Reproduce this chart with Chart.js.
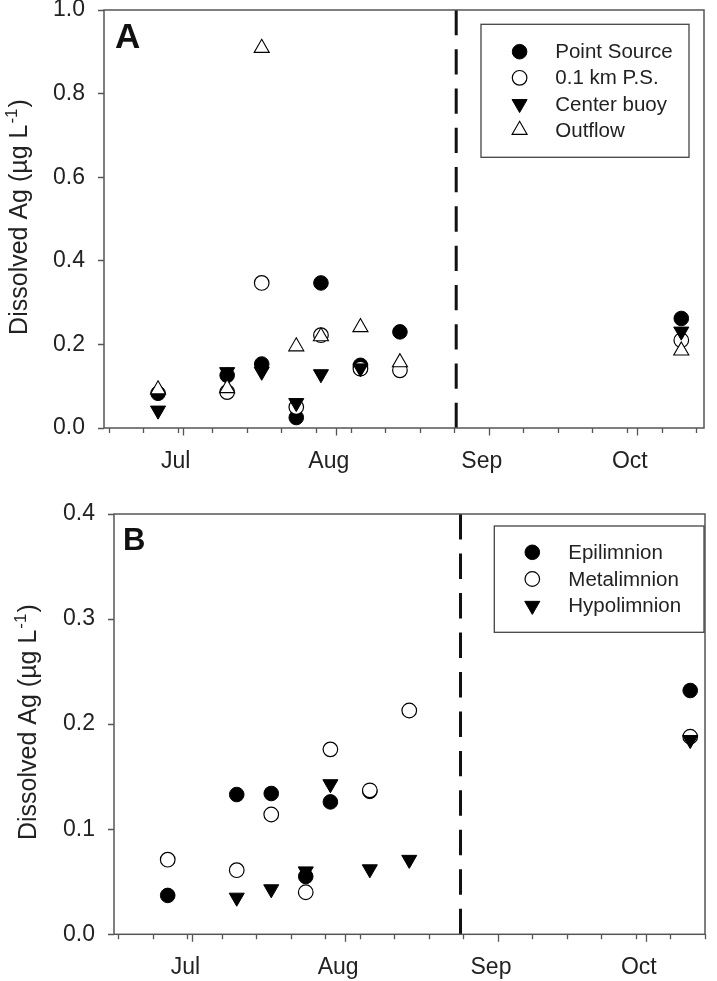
<!DOCTYPE html>
<html>
<head>
<meta charset="utf-8">
<script src="https://cdn.jsdelivr.net/npm/chart.js@4.4.1/dist/chart.umd.min.js"></script>
<style>
  html, body { margin: 0; padding: 0; background: #ffffff; }
  #wrapA { position: absolute; left: 0; top: 0; width: 717px; height: 490px; }
  #wrapB { position: absolute; left: 0; top: 490px; width: 717px; height: 491px; }
</style>
</head>
<body>
<div id="wrapA"><canvas id="chartA"></canvas></div>
<div id="wrapB"><canvas id="chartB"></canvas></div>
<script>
// ---------------- DATA ----------------
// sampling dates, as days after 1 July
const sampleDays = [-5, 9, 16, 23, 28, 36, 44, 101];

// Panel A: dissolved Ag (ug/L) by station
const pointSource = [0.083, 0.126, 0.153, 0.025, 0.347, 0.150, 0.230, 0.262];
const ps01km      = [null,  0.086, 0.347, 0.050, 0.222, 0.142, 0.138, 0.210];
const centerBuoy  = [0.042, 0.134, 0.135, 0.060, 0.129, 0.143, null,  0.231];
const outflow     = [0.092, 0.095, 0.909, 0.195, 0.219, 0.241, 0.157, 0.185];

// Panel B: dissolved Ag (ug/L) by depth layer
const epilimnion  = [0.037, 0.133, 0.134, 0.055, 0.126, 0.136, null,  0.232];
const metalimnion = [0.071, 0.061, 0.114, 0.040, 0.176, 0.137, 0.213, 0.188];
const hypolimnion = [null,  0.035, 0.043, 0.060, 0.143, 0.062, 0.071, 0.185];

const seriesNamesA = ['Point Source', '0.1 km P.S.', 'Center buoy', 'Outflow'];
const seriesNamesB = ['Epilimnion', 'Metalimnion', 'Hypolimnion'];

// axis ticks
const monthLabels    = ['Jul', 'Aug', 'Sep', 'Oct'];
const monthStartDays = [0, 31, 62, 92];
const weeklyTickDays = [-15, -8, -1, 6, 13, 20, 27, 34, 41, 48, 55, 62, 69, 76, 83, 90, 97, 104];
const yTicksA = [0.0, 0.2, 0.4, 0.6, 0.8, 1.0];
const yTicksB = [0.0, 0.1, 0.2, 0.3, 0.4];

// date of the dashed vertical marker (days after 1 July)
const turnoverDayA = 55.4;
const turnoverDayB = 54.4;

const yTitleMain = 'Dissolved Ag (µg L';
const yTitleSup = '-1';
const yTitleEnd = ')';

// ---------------- STYLE ----------------
const FONT = "'Liberation Sans', Arial, Helvetica, sans-serif";
Chart.defaults.font.family = FONT;
Chart.defaults.color = '#222';

const markerStyles = {
  filledCircle: { pointStyle: 'circle', rotation: 0, radius: 7.3, backgroundColor: '#000', borderColor: '#000', borderWidth: 1 },
  openCircle:   { pointStyle: 'circle', rotation: 0, radius: 7.3, backgroundColor: '#fff', borderColor: '#000', borderWidth: 1.2 },
  downTriangle: { pointStyle: 'triangle', rotation: 180, radius: 8.7, backgroundColor: '#000', borderColor: '#000', borderWidth: 1 },
  upTriangle:   { pointStyle: 'triangle', rotation: 0, radius: 8.7, backgroundColor: '#fff', borderColor: '#000', borderWidth: 1.1 }
};

function makeDataset(label, values, style, order) {
  return {
    label: label,
    data: sampleDays.map((d, i) => values[i] === null ? null : ({ x: d, y: values[i] })).filter(p => p !== null),
    showLine: false,
    pointStyle: style.pointStyle,
    rotation: style.rotation,
    pointRadius: style.radius,
    pointHoverRadius: style.radius,
    backgroundColor: style.backgroundColor,
    borderColor: style.borderColor,
    borderWidth: style.borderWidth,
    order: order
  };
}

function drawYTitle(ctx, xBase, yCenter, size) {
  ctx.save();
  ctx.translate(xBase, yCenter);
  ctx.rotate(-Math.PI / 2);
  ctx.fillStyle = '#222';
  ctx.textBaseline = 'alphabetic';
  ctx.textAlign = 'left';
  const f1 = size + 'px ' + FONT;
  const f2 = Math.round(size * 0.66) + 'px ' + FONT;
  ctx.font = f1;
  const w1 = ctx.measureText(yTitleMain).width;
  const w3 = ctx.measureText(yTitleEnd).width;
  ctx.font = f2;
  const w2 = ctx.measureText(yTitleSup).width;
  const total = w1 + w2 + w3 + 2;
  let x = -total / 2;
  ctx.font = f1; ctx.fillText(yTitleMain, x, 0); x += w1 + 1;
  ctx.font = f2; ctx.fillText(yTitleSup, x, -size * 0.42); x += w2 + 1;
  ctx.font = f1; ctx.fillText(yTitleEnd, x, 0);
  ctx.restore();
}

function panelPlugin(o) {
  return {
    id: 'panelDecor' + o.letter,
    afterDraw(chart) {
      const ctx = chart.ctx;
      const ca = chart.chartArea;
      const xs = chart.scales.x;
      ctx.save();
      // dashed vertical line (11 dashes spanning the full plot height)
      const xp = xs.getPixelForValue(o.turnover);
      const span = ca.bottom - ca.top;
      const gap = 14;
      const dash = (span - 10 * gap) / 11;
      ctx.strokeStyle = '#111';
      ctx.lineWidth = 3;
      ctx.setLineDash([dash, gap]);
      ctx.beginPath();
      ctx.moveTo(xp, ca.top);
      ctx.lineTo(xp, ca.bottom);
      ctx.stroke();
      ctx.setLineDash([]);
      // frame
      ctx.strokeStyle = '#555';
      ctx.lineWidth = 1.5;
      ctx.strokeRect(ca.left, ca.top, ca.right - ca.left, ca.bottom - ca.top);
      // x ticks: weekly minor, monthly major
      ctx.lineWidth = 1.3;
      ctx.beginPath();
      weeklyTickDays.forEach(d => {
        if (d < xs.min || d > xs.max) return;
        const px = Math.round(xs.getPixelForValue(d)) + 0.5;
        ctx.moveTo(px, ca.bottom); ctx.lineTo(px, ca.bottom + 5);
      });
      monthStartDays.forEach(d => {
        if (d < xs.min || d > xs.max) return;
        const px = Math.round(xs.getPixelForValue(d)) + 0.5;
        ctx.moveTo(px, ca.bottom); ctx.lineTo(px, ca.bottom + 7.5);
      });
      ctx.stroke();
      // panel letter
      ctx.fillStyle = '#111';
      ctx.font = 'bold ' + o.letterSize + 'px ' + FONT;
      ctx.textAlign = 'left';
      ctx.textBaseline = 'alphabetic';
      ctx.fillText(o.letter, ca.left + o.letterDx, ca.top + o.letterDy);
      // legend
      const L = o.legend;
      const bx = ca.right - L.rightInset - L.width;
      const by = ca.top + L.topInset;
      ctx.strokeStyle = '#444';
      ctx.lineWidth = 1.3;
      ctx.strokeRect(bx, by, L.width, L.height);
      ctx.font = L.fontSize + 'px ' + FONT;
      ctx.textBaseline = 'middle';
      chart.data.datasets.forEach((ds, i) => {
        const ry = by + L.firstRow + i * L.rowGap;
        ctx.fillStyle = ds.backgroundColor;
        ctx.strokeStyle = ds.borderColor;
        ctx.lineWidth = ds.borderWidth;
        Chart.helpers.drawPoint(ctx, {
          pointStyle: ds.pointStyle, rotation: ds.rotation,
          radius: ds.pointRadius, borderWidth: ds.borderWidth
        }, bx + L.markerX, ry);
        ctx.fillStyle = '#222';
        ctx.fillText(ds.label, bx + L.textX, ry + 1);
      });
      // y-axis title
      drawYTitle(ctx, o.titleX, (ca.top + ca.bottom) / 2 - 2, o.titleSize);
      ctx.restore();
    }
  };
}

function makeChart(canvasId, datasets, o) {
  return new Chart(document.getElementById(canvasId), {
    type: 'scatter',
    data: { datasets: datasets },
    options: {
      responsive: true,
      maintainAspectRatio: false,
      animation: false,
      devicePixelRatio: 1,
      events: [],
      layout: { padding: { left: 0, top: o.padTop, right: o.padRight, bottom: 0 } },
      plugins: { legend: { display: false }, tooltip: { enabled: false } },
      scales: {
        x: {
          type: 'linear',
          min: o.xMin, max: o.xMax,
          afterBuildTicks: (scale) => { scale.ticks = monthStartDays.map(v => ({ value: v })); },
          ticks: {
            autoSkip: false, maxRotation: 0, minRotation: 0,
            labelOffset: -7, padding: 12.5,
            font: { size: 23 }, color: '#222',
            callback: (v) => { const k = monthStartDays.indexOf(v); return k >= 0 ? monthLabels[k] : ''; }
          },
          grid: { drawOnChartArea: false, drawTicks: true, tickLength: 7, tickColor: 'rgba(0,0,0,0)' },
          border: { display: false },
          afterFit: (scale) => { scale.height = o.xAxisHeight; scale.paddingLeft = 0; scale.paddingRight = 0; }
        },
        y: {
          min: o.yTicks[0], max: o.yTicks[o.yTicks.length - 1],
          afterBuildTicks: (scale) => { scale.ticks = o.yTicks.map(v => ({ value: v })); },
          ticks: {
            padding: 13, font: { size: 23 }, color: '#222',
            callback: (v) => Number(v).toFixed(1)
          },
          grid: { drawOnChartArea: false, drawTicks: true, tickLength: 6, tickColor: '#555', tickWidth: 1.5 },
          border: { display: false },
          afterFit: (scale) => { scale.width = o.yAxisWidth; scale.paddingTop = 0; scale.paddingBottom = 0; }
        }
      }
    },
    plugins: [panelPlugin(o)]
  });
}

// ---------------- PANEL A ----------------
makeChart('chartA', [
  makeDataset(seriesNamesA[0], pointSource, markerStyles.filledCircle, 3),
  makeDataset(seriesNamesA[1], ps01km, markerStyles.openCircle, 2),
  makeDataset(seriesNamesA[2], centerBuoy, markerStyles.downTriangle, 1),
  makeDataset(seriesNamesA[3], outflow, markerStyles.upTriangle, 0)
], {
  letter: 'A', letterSize: 35, letterDx: 11, letterDy: 38,
  turnover: turnoverDayA,
  xMin: -15.95, xMax: 105.6,
  yTicks: yTicksA,
  padTop: 10, padRight: 13, yAxisWidth: 104, xAxisHeight: 62,
  titleX: 27, titleSize: 25,
  legend: { width: 208, height: 133, rightInset: 15, topInset: 14.3, markerX: 38.6, textX: 74.3, firstRow: 27.4, rowGap: 26.1, fontSize: 20.5 }
});

// ---------------- PANEL B ----------------
makeChart('chartB', [
  makeDataset(seriesNamesB[0], epilimnion, markerStyles.filledCircle, 2),
  makeDataset(seriesNamesB[1], metalimnion, markerStyles.openCircle, 1),
  makeDataset(seriesNamesB[2], hypolimnion, markerStyles.downTriangle, 0)
], {
  letter: 'B', letterSize: 31, letterDx: 9, letterDy: 36,
  turnover: turnoverDayB,
  xMin: -15.9, xMax: 104,
  yTicks: yTicksB,
  padTop: 24, padRight: 12, yAxisWidth: 114, xAxisHeight: 46.7,
  titleX: 36.3, titleSize: 25,
  legend: { width: 209.7, height: 106.3, rightInset: 1, topInset: 12, markerX: 38, textX: 74, firstRow: 26.3, rowGap: 26.7, fontSize: 20.5 }
});
</script>
</body>
</html>
